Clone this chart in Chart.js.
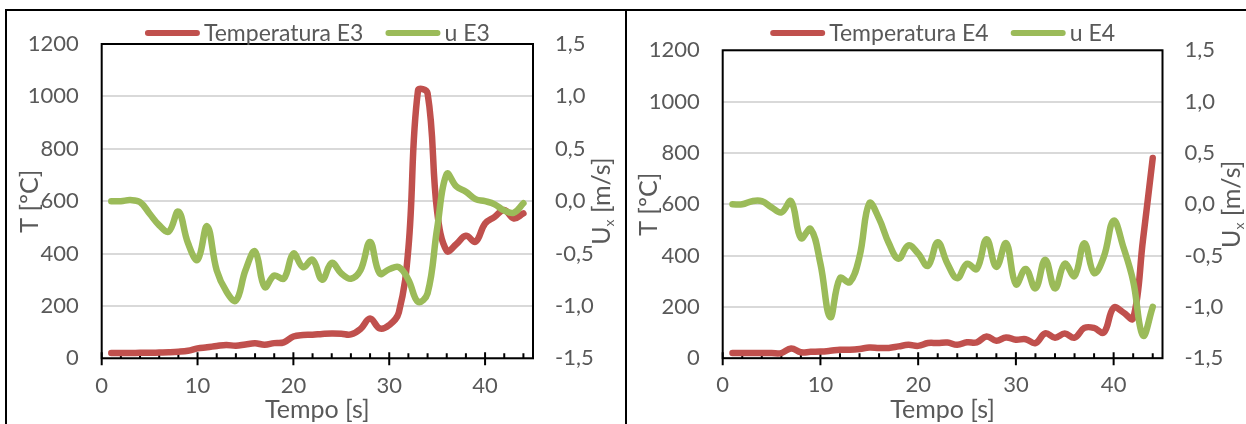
<!DOCTYPE html>
<html><head><meta charset="utf-8">
<script src="https://cdn.jsdelivr.net/npm/chart.js@4/dist/chart.umd.min.js"></script>
<style>
html,body{margin:0;padding:0;background:#fff;width:1246px;height:424px;overflow:hidden;position:relative}
.ln{position:absolute;background:#000}
canvas{position:absolute;top:0}
</style></head><body>
<div class="ln" style="left:5px;top:9px;width:1300px;height:2px"></div>
<div class="ln" style="left:5px;top:9px;width:2px;height:500px"></div>
<div class="ln" style="left:625px;top:9px;width:2px;height:500px"></div>
<canvas id="c1" width="626" height="424" style="left:0"></canvas>
<canvas id="c2" width="620" height="424" style="left:626px"></canvas>
<script>
// ---- data ----
const seconds = [1,2,3,4,5,6,7,8,9,10,11,12,13,14,15,16,17,18,19,20,21,22,23,24,25,26,27,28,29,30,31,32,33,34,35,36,37,38,39,40,41,42,43,44];
const tempE3 = [20,20,20,21,21,22,23,25,29,38,42,47,51,48,53,57,52,58,61,83,89,90,93,95,94,91,112,152,114,127,175,420,1022,1012,560,410,436,468,445,515,540,566,534,553];
const uE3 = [0,0,0.01,-0.01,-0.12,-0.23,-0.29,-0.10,-0.40,-0.56,-0.24,-0.66,-0.86,-0.95,-0.66,-0.48,-0.82,-0.71,-0.74,-0.50,-0.63,-0.56,-0.75,-0.59,-0.69,-0.74,-0.66,-0.39,-0.69,-0.65,-0.63,-0.75,-0.96,-0.88,-0.26,0.26,0.14,0.09,0.02,0.0,-0.03,-0.09,-0.11,-0.02];
const tempE4 = [20,20,20,20,20,20,38,23,25,26,29,33,33,36,42,40,40,46,52,48,59,59,61,52,62,62,85,68,81,72,74,59,97,80,96,80,118,118,100,197,178,155,460,780];
const uE4 = [0,0,0.03,0.03,-0.03,-0.08,0.03,-0.33,-0.24,-0.58,-1.10,-0.72,-0.76,-0.51,0.01,-0.14,-0.38,-0.53,-0.40,-0.48,-0.60,-0.37,-0.58,-0.72,-0.58,-0.63,-0.34,-0.61,-0.38,-0.78,-0.63,-0.82,-0.54,-0.82,-0.58,-0.70,-0.38,-0.67,-0.51,-0.16,-0.42,-0.75,-1.28,-1.0];
const timeMajorTicks = [0,10,20,30,40];
const timeMinorTicks = [2,4,6,8,12,14,16,18,22,24,26,28,32,34,36,38,42,44];
const tempTicks = [0,200,400,600,800,1000,1200];
const tempTickLabels = ['0','200','400','600','800','1000','1200'];
const uTicks = [-1.5,-1,-0.5,0,0.5,1,1.5];
const uTickLabels = ['-1,5','-1,0','-0,5','0,0','0,5','1,0','1,5'];

const RED = '#C0504D', GREEN = '#9BBB59', GREY = '#595959', FONT = 'Lato';

const decor = {
  id: 'decor',
  beforeDatasetsDraw(chart, args, g) {
    const {ctx, chartArea: a} = chart;
    const xs = chart.scales.x;
    ctx.save();
    ctx.strokeStyle = '#000'; ctx.lineWidth = 2;
    ctx.strokeRect(a.left, a.top, a.right - a.left, a.bottom - a.top);
    ctx.beginPath();
    for (const v of timeMajorTicks) { const p = xs.getPixelForValue(v); ctx.moveTo(p, a.bottom - 6); ctx.lineTo(p, a.bottom + 7); }
    for (const v of timeMinorTicks) { const p = xs.getPixelForValue(v); ctx.moveTo(p, a.bottom - 5); ctx.lineTo(p, a.bottom); }
    ctx.stroke();
    ctx.restore();
  },
  afterDraw(chart, args, g) {
    const {ctx, chartArea: a} = chart;
    ctx.save();
    ctx.fillStyle = GREY;
    // bottom title
    ctx.font = g.titleSize + 'px ' + FONT;
    ctx.textAlign = 'center'; ctx.textBaseline = 'alphabetic';
    ctx.fillText(g.xTitle, (a.left + a.right) / 2, g.xTitleY);
    const cy = (a.top + a.bottom) / 2;
    // left title
    ctx.save();
    ctx.translate(g.leftTitleX, cy); ctx.rotate(-Math.PI / 2);
    ctx.fillText(g.yTitle, 0, 0);
    ctx.restore();
    // right title with subscript
    ctx.save();
    ctx.translate(g.rightTitleX, cy); ctx.rotate(-Math.PI / 2);
    ctx.textAlign = 'left';
    const parts = [[g.y1Title[0], g.titleSize, 0], [g.y1Title[1], 14, 4], [g.y1Title[2], g.titleSize, 0]];
    let tw = 0;
    for (const p of parts) { ctx.font = p[1] + 'px ' + FONT; tw += ctx.measureText(p[0]).width; }
    let x = -tw / 2;
    for (const p of parts) { ctx.font = p[1] + 'px ' + FONT; ctx.fillText(p[0], x, p[2]); x += ctx.measureText(p[0]).width; }
    ctx.restore();
    // legend
    ctx.font = g.legendSize + 'px ' + FONT;
    const lineLen = 55, gap1 = 4, gap2 = 22;
    const ds = chart.data.datasets;
    const ws = ds.map(d => lineLen + gap1 + ctx.measureText(d.label).width);
    const total = ws.reduce((s, w) => s + w, 0) + gap2 * (ds.length - 1);
    let lx = (a.left + a.right) / 2 - total / 2;
    ds.forEach((d, i) => {
      ctx.strokeStyle = d.borderColor; ctx.lineWidth = 6; ctx.lineCap = 'round';
      ctx.beginPath(); ctx.moveTo(lx + 3, g.legendLineY); ctx.lineTo(lx + lineLen - 3, g.legendLineY); ctx.stroke();
      ctx.textAlign = 'left'; ctx.fillStyle = GREY;
      ctx.fillText(d.label, lx + lineLen + gap1, g.legendTextY);
      lx += ws[i] + gap2;
    });
    ctx.restore();
  }
};

function makeChart(id, g, temp, u, tLabel, uLabel) {
  const tickFont = {family: FONT, size: 22};
  const lineOpts = {borderWidth: 6.5, pointRadius: 0, tension: 0.4, borderCapStyle: 'round', borderJoinStyle: 'round', fill: false};
  return new Chart(document.getElementById(id), {
    type: 'line',
    data: {datasets: [
      Object.assign({label: tLabel, data: seconds.map((s, i) => ({x: s, y: temp[i]})), yAxisID: 'y', borderColor: RED, backgroundColor: RED, order: 2}, lineOpts),
      Object.assign({label: uLabel, data: seconds.map((s, i) => ({x: s, y: u[i]})), yAxisID: 'y1', borderColor: GREEN, backgroundColor: GREEN, order: 1}, lineOpts)
    ]},
    options: {
      responsive: false, animation: false, devicePixelRatio: 1,
      layout: {padding: {top: g.top, left: 0, right: 0, bottom: 0}},
      plugins: {legend: {display: false}, tooltip: {enabled: false}, decor: g},
      scales: {
        x: {type: 'linear', position: 'bottom', min: 0, max: 45,
            afterBuildTicks: s => { s.ticks = timeMajorTicks.map(v => ({value: v})); },
            afterFit: s => { s.height = g.xH; },
            grid: {display: false, drawTicks: false}, border: {display: false},
            ticks: {font: tickFont, color: GREY, padding: g.xPad, maxRotation: 0, autoSkip: false, callback: v => String(v)}},
        y: {type: 'linear', position: 'left', min: 0, max: 1200,
            afterBuildTicks: s => { s.ticks = tempTicks.map(v => ({value: v})); },
            afterFit: s => { s.width = g.left; },
            grid: {color: '#d9d9d9', lineWidth: 2, drawTicks: false}, border: {display: false},
            ticks: {font: tickFont, color: GREY, padding: 23, callback: v => { const k = tempTicks.indexOf(v); return k >= 0 ? tempTickLabels[k] : ''; }}},
        y1: {type: 'linear', position: 'right', min: -1.5, max: 1.5,
            afterBuildTicks: s => { s.ticks = uTicks.map(v => ({value: v})); },
            afterFit: s => { s.width = g.rightW; },
            grid: {drawOnChartArea: false, drawTicks: false}, border: {display: false},
            ticks: {font: tickFont, color: GREY, padding: 22, callback: v => { const k = uTicks.indexOf(v); return k >= 0 ? uTickLabels[k] : ''; }}}
      }
    },
    plugins: [decor]
  });
}

const common = {xTitle: 'Tempo [s]', yTitle: 'T [ºC]', y1Title: ['U', 'x', ' [m/s]'], titleSize: 25, legendSize: 23,
  xTitleY: 418, legendLineY: 33, legendTextY: 41, xPad: 14};
function draw() {
  makeChart('c1', Object.assign({}, common, {top: 44, left: 101.7, rightW: 93, xH: 65.7, leftTitleX: 38, rightTitleX: 610}), tempE3, uE3, 'Temperatura E3', 'u E3');
  makeChart('c2', Object.assign({}, common, {top: 50.3, left: 96.7, rightW: 83.5, xH: 65.8, leftTitleX: 31, rightTitleX: 614}), tempE4, uE4, 'Temperatura E4', 'u E4');
}
if (document.fonts && document.fonts.load) {
  Promise.all([document.fonts.load('22px Lato'), document.fonts.load('14px Lato')]).then(draw, draw);
} else draw();
</script>
</body></html>
